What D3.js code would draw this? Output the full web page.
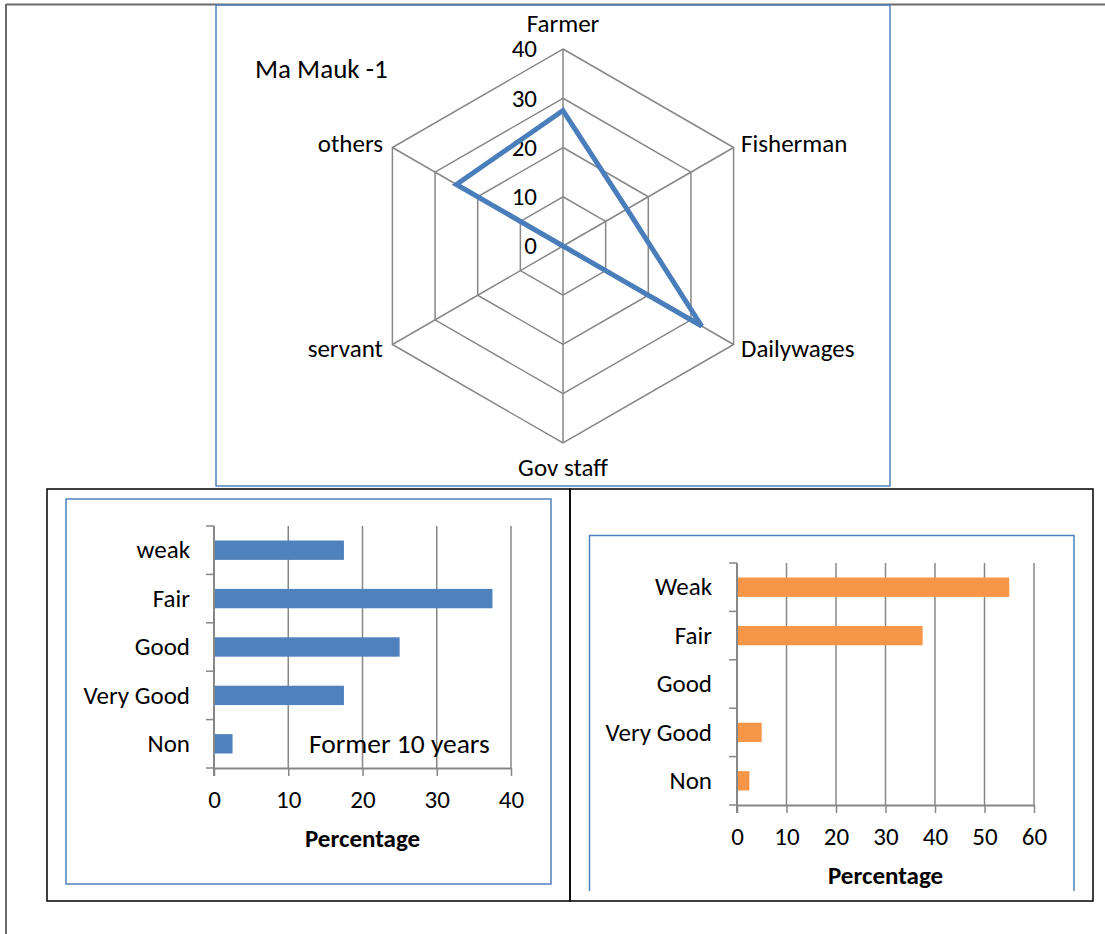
<!DOCTYPE html>
<html>
<head>
<meta charset="utf-8">
<script src="https://cdn.jsdelivr.net/npm/d3@7"></script>
<style>
  body { margin: 0; background: #fff; }
  svg { display: block; }
  text { font-family: Carlito, Lato, sans-serif; fill: #000; }
</style>
</head>
<body>
<svg id="chart" width="1105" height="934"></svg>
<script>
// Occupation profile (radar)
const occupations = ["Farmer", "Fisherman", "Dailywages", "Gov staff", "servant", "others"];
const occupationValues = [27.5, 15, 32.5, 0, 0, 25];
const radarTicks = [0, 10, 20, 30, 40];
const radarTitle = "Ma Mauk -1";

// Condition rating, former 10 years
const formerCategories = ["weak", "Fair", "Good", "Very Good", "Non"];
const formerValues = [17.5, 37.5, 25, 17.5, 2.5];
const formerTicks = [0, 10, 20, 30, 40];
const formerNote = "Former 10 years";

// Condition rating, present
const presentCategories = ["Weak", "Fair", "Good", "Very Good", "Non"];
const presentValues = [55, 37.5, 0, 5, 2.5];
const presentTicks = [0, 10, 20, 30, 40, 50, 60];

const axisTitle = "Percentage";

const svg = d3.select("#chart");
const GRID = "#878787";
const FRAME_BLUE = "#4f81bd";
const FS = 25;

// Page frame
svg.append("line").attr("x1", 6).attr("y1", 4.5).attr("x2", 1105).attr("y2", 4.5)
  .attr("stroke", "#6a6a6a").attr("stroke-width", 2);
svg.append("line").attr("x1", 6).attr("y1", 4).attr("x2", 6).attr("y2", 934)
  .attr("stroke", "#6a6a6a").attr("stroke-width", 2);

// ---------- Radar chart ----------
svg.append("rect").attr("x", 216).attr("y", 5).attr("width", 674).attr("height", 481)
  .attr("fill", "none").attr("stroke", FRAME_BLUE).attr("stroke-width", 1.5);

const cx = 563, cy = 246;
const rScale = d3.scaleLinear().domain([0, d3.max(radarTicks)]).range([0, 197]);
const angle = d3.scaleLinear().domain([0, occupations.length]).range([0, 2 * Math.PI]);
const polar = (i, v) => [cx + rScale(v) * Math.sin(angle(i)), cy - rScale(v) * Math.cos(angle(i))];

const radar = svg.append("g");
const ringLine = d3.line().curve(d3.curveLinearClosed);

radarTicks.filter(t => t > 0).forEach(t => {
  radar.append("path")
    .attr("d", ringLine(occupations.map((_, i) => polar(i, t))))
    .attr("fill", "none").attr("stroke", GRID).attr("stroke-width", 1.5);
});
occupations.forEach((_, i) => {
  const [x, y] = polar(i, d3.max(radarTicks));
  radar.append("line").attr("x1", cx).attr("y1", cy).attr("x2", x).attr("y2", y)
    .attr("stroke", GRID).attr("stroke-width", 1.5);
});

// value labels along the first spoke
radar.selectAll("text.rtick").data(radarTicks).join("text")
  .attr("class", "rtick")
  .attr("x", cx - 26).attr("y", d => cy - rScale(d)).attr("dy", "0.33em")
  .attr("text-anchor", "end").attr("font-size", FS).text(d => d);

// series
radar.append("path")
  .attr("d", ringLine(occupationValues.map((v, i) => polar(i, v))))
  .attr("fill", "none").attr("stroke", "#4a7ebb").attr("stroke-width", 5)
  .attr("stroke-linejoin", "miter");

// category labels
const catPos = [
  { x: cx, y: 23, anchor: "middle" },
  { x: 741, y: 143, anchor: "start" },
  { x: 741, y: 348, anchor: "start" },
  { x: cx, y: 467, anchor: "middle" },
  { x: 383, y: 348, anchor: "end" },
  { x: 383, y: 143, anchor: "end" }
];
radar.selectAll("text.cat").data(occupations).join("text")
  .attr("class", "cat")
  .attr("x", (d, i) => catPos[i].x).attr("y", (d, i) => catPos[i].y).attr("dy", "0.35em")
  .attr("text-anchor", (d, i) => catPos[i].anchor).attr("font-size", FS).text(d => d);

radar.append("text").attr("x", 255).attr("y", 69).attr("dy", "0.35em")
  .attr("font-size", 27).text(radarTitle);

// ---------- Panel frames ----------
svg.append("rect").attr("x", 47).attr("y", 489).attr("width", 523).attr("height", 412)
  .attr("fill", "none").attr("stroke", "#000").attr("stroke-width", 1.5);
svg.append("rect").attr("x", 570).attr("y", 489).attr("width", 523).attr("height", 412)
  .attr("fill", "none").attr("stroke", "#000").attr("stroke-width", 1.5);

svg.append("rect").attr("x", 66).attr("y", 499).attr("width", 485).attr("height", 385)
  .attr("fill", "none").attr("stroke", FRAME_BLUE).attr("stroke-width", 1.5);
svg.append("path").attr("d", "M589.5,891V535.5H1074V891")
  .attr("fill", "none").attr("stroke", FRAME_BLUE).attr("stroke-width", 1.5);

// ---------- Horizontal bar charts ----------
function barChart(cats, vals, ticks, xRange, yRange, color, labelX) {
  const g = svg.append("g");
  const x = d3.scaleLinear().domain([0, d3.max(ticks)]).range(xRange);
  const y = d3.scaleBand().domain(cats).range(yRange).paddingInner(0.6).paddingOuter(0.3);
  const step = y.step();

  // vertical gridlines
  g.selectAll("line.grid").data(ticks.slice(1)).join("line")
    .attr("x1", d => x(d)).attr("x2", d => x(d))
    .attr("y1", yRange[0]).attr("y2", yRange[1])
    .attr("stroke", GRID).attr("stroke-width", 1.5);

  // bars
  g.selectAll("rect.bar").data(vals).join("rect")
    .attr("x", x(0)).attr("y", (d, i) => y(cats[i]))
    .attr("width", d => x(d) - x(0)).attr("height", y.bandwidth())
    .attr("fill", color);

  // category axis: line, boundary ticks, labels
  g.append("line").attr("x1", x(0)).attr("x2", x(0))
    .attr("y1", yRange[0]).attr("y2", yRange[1] + 8)
    .attr("stroke", GRID).attr("stroke-width", 2);
  g.selectAll("line.ytick").data(d3.range(cats.length + 1)).join("line")
    .attr("x1", x(0) - 8).attr("x2", x(0))
    .attr("y1", i => yRange[0] + i * step).attr("y2", i => yRange[0] + i * step)
    .attr("stroke", GRID).attr("stroke-width", 1.5);
  g.selectAll("text.ylab").data(cats).join("text")
    .attr("x", labelX).attr("y", d => y(d) + y.bandwidth() / 2).attr("dy", "0.33em")
    .attr("text-anchor", "end").attr("font-size", FS).text(d => d);

  // value axis
  const xAxis = g.append("g").attr("transform", `translate(0,${yRange[1]})`)
    .call(d3.axisBottom(x).tickValues(ticks).tickSize(8).tickSizeOuter(0).tickFormat(d3.format("d")));
  xAxis.select(".domain").attr("stroke", GRID).attr("stroke-width", 2);
  xAxis.selectAll(".tick line").attr("stroke", GRID).attr("stroke-width", 1.5);
  xAxis.selectAll(".tick text").attr("font-size", FS).attr("font-family", null)
    .attr("y", 32).attr("dy", "0.33em").attr("fill", "#000");

  g.append("text").attr("x", (xRange[0] + xRange[1]) / 2).attr("y", yRange[1] + 71)
    .attr("dy", "0.33em").attr("text-anchor", "middle")
    .attr("font-size", FS).attr("font-weight", "bold").text(axisTitle);
  return { x, y };
}

const former = barChart(formerCategories, formerValues, formerTicks, [214, 511], [526, 768], "#4f81bd", 190);
svg.append("text").attr("x", 309).attr("y", former.y("Non") + former.y.bandwidth() / 2)
  .attr("dy", "0.33em").attr("font-size", 27.5).text(formerNote);

barChart(presentCategories, presentValues, presentTicks, [737, 1034], [563, 805], "#f79646", 712);
</script>
</body>
</html>
